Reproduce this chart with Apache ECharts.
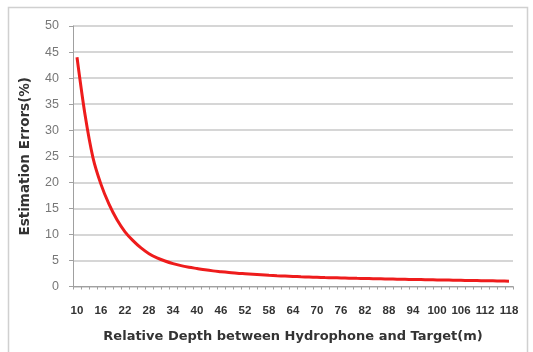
<!DOCTYPE html>
<html>
<head>
<meta charset="utf-8">
<script src="https://cdn.jsdelivr.net/npm/echarts@6/dist/echarts.min.js"></script>
<style>
html,body{margin:0;padding:0;background:#fff;}
#chart{width:533px;height:352px;}
</style>
</head>
<body>
<div id="chart"></div>
<script>
const depths = [10,12,14,16,18,20,22,24,26,28,30,32,34,36,38,40,42,44,46,48,50,52,54,56,58,60,62,64,66,68,70,72,74,76,78,80,82,84,86,88,90,92,94,96,98,100,102,104,106,108,110,112,114,116,118];
const errors = [44.0,33.0,24.7,19.6,15.8,12.8,10.5,8.8,7.4,6.3,5.5,4.9,4.4,4.0,3.7,3.45,3.2,3.0,2.85,2.7,2.55,2.45,2.35,2.25,2.15,2.07,2.0,1.93,1.87,1.82,1.77,1.72,1.68,1.64,1.6,1.56,1.53,1.5,1.47,1.44,1.41,1.38,1.35,1.33,1.3,1.27,1.24,1.22,1.19,1.16,1.14,1.11,1.08,1.05,1.02];
const yTicks = [0,5,10,15,20,25,30,35,40,45,50];
const xTitle = 'Relative Depth between Hydrophone and Target(m)';
const yTitle = 'Estimation Errors(%)';

const chart = echarts.init(document.getElementById('chart'));
chart.setOption({
  animation: false,
  backgroundColor: '#fff',
  graphic: [{
    type: 'rect',
    shape: {x: 8.5, y: 7.5, width: 519, height: 360},
    style: {fill: 'none', stroke: '#d0d0d0', lineWidth: 1.5},
    silent: true
  }],
  grid: {left: 73, right: 20, top: 26, bottom: 65.5},
  xAxis: {
    type: 'category',
    data: depths.map(String),
    boundaryGap: true,
    name: xTitle,
    nameLocation: 'middle',
    nameGap: 44,
    nameTextStyle: {fontFamily: 'DejaVu Sans', fontWeight: 'bold', fontSize: 13, color: '#333'},
    axisLine: {lineStyle: {color: '#a0a0a0', width: 1}},
    axisTick: {show: true, interval: 0, length: 3, lineStyle: {color: '#a0a0a0'}},
    axisLabel: {interval: 2, margin: 18, fontFamily: 'Liberation Sans', fontWeight: 'bold', fontSize: 11.5, color: '#333'},
    splitLine: {show: false}
  },
  yAxis: {
    type: 'value',
    min: yTicks[0],
    max: yTicks[yTicks.length - 1],
    interval: 5,
    name: yTitle,
    nameLocation: 'middle',
    nameGap: 41,
    nameRotate: 90,
    nameTextStyle: {fontFamily: 'DejaVu Sans', fontWeight: 'bold', fontSize: 13.5, color: '#333'},
    axisLine: {show: true, lineStyle: {color: '#a0a0a0', width: 1}},
    axisTick: {show: true, length: 4, lineStyle: {color: '#a0a0a0'}},
    axisLabel: {margin: 14, fontFamily: 'Liberation Sans', fontSize: 12.5, color: '#777'},
    splitLine: {lineStyle: {color: '#c8c8c8', width: 1.5}}
  },
  series: [{
    type: 'line',
    data: errors,
    smooth: 0.3,
    symbol: 'none',
    lineStyle: {color: '#ee1c1c', width: 3}
  }]
});
</script>
</body>
</html>
